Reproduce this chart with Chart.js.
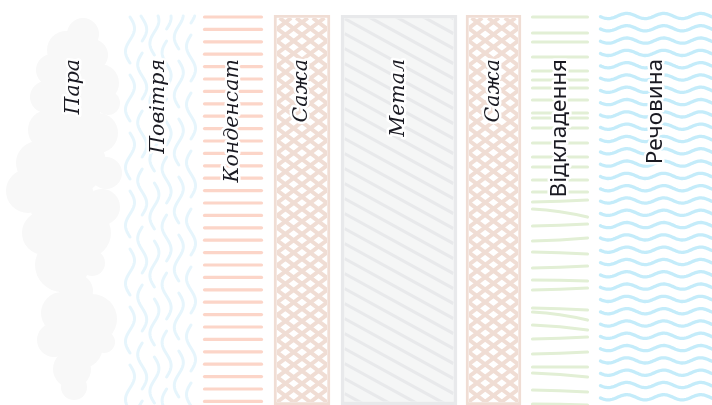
<!DOCTYPE html>
<html>
<head>
<meta charset="utf-8">
<script src="https://cdn.jsdelivr.net/npm/chart.js@4"></script>
<style>
  html, body { margin: 0; padding: 0; background: #ffffff; }
</style>
</head>
<body>
<canvas id="layersChart" width="712" height="405"></canvas>
<script>
// layers of the cross-section, left to right (x extents in px-units of the drawing)
const layerNames = ["Пара", "Повітря", "Конденсат", "Сажа", "Метал", "Сажа", "Відкладення", "Речовина"];
const layerStart = [30, 125, 203, 274, 341, 466, 531, 599];
const layerEnd = [118, 193, 263, 330, 457, 521, 589, 712];

const SERIF = "italic 20.5px 'DejaVu Serif'";
const SANS = "22.5px 'Noto Sans'";

const layerStyle = {
  "Пара": { fill: "rgba(0,0,0,0)", border: "rgba(0,0,0,0)", bw: 0, draw: drawCloud, font: SERIF },
  "Повітря": { fill: "rgba(0,0,0,0)", border: "rgba(0,0,0,0)", bw: 0, draw: drawAir, font: SERIF },
  "Конденсат": { fill: "rgba(0,0,0,0)", border: "rgba(0,0,0,0)", bw: 0, draw: drawStripes, font: SERIF },
  "Сажа": { fill: "#ffffff", border: "#f0ddd4", bw: 3, draw: drawCross, font: SERIF },
  "Метал": { fill: "#f5f6f6", border: "#e8e9eb", bw: 3.5, draw: drawDiag, font: SERIF },
  "Відкладення": { fill: "rgba(0,0,0,0)", border: "rgba(0,0,0,0)", bw: 0, draw: drawDeposit, font: SANS },
  "Речовина": { fill: "rgba(0,0,0,0)", border: "rgba(0,0,0,0)", bw: 0, draw: drawWaves, font: SANS }
};

function drawCloud(ctx, r) {
  const cx = (r.left + r.right) / 2;
  const blobs = [
    [9, 19, 16], [-8, 35, 19], [18, 40, 16], [-22, 55, 16], [-2, 62, 24], [26, 68, 19],
    [-28, 82, 16], [34, 88, 12], [-2, 98, 28], [-26, 115, 20], [24, 118, 20],
    [-36, 148, 22], [2, 148, 30], [32, 158, 16], [-46, 176, 22], [-12, 186, 33],
    [28, 192, 18], [-30, 218, 22], [12, 218, 25], [-12, 250, 27], [18, 248, 13],
    [2, 276, 17], [-12, 298, 21], [18, 304, 25], [-20, 325, 17], [6, 331, 23],
    [30, 327, 11], [-2, 354, 19], [0, 372, 13]
  ];
  ctx.fillStyle = "#f8f8f8";
  blobs.forEach(([dx, dy, rad]) => {
    ctx.beginPath();
    ctx.arc(cx + dx, r.top + dy, rad, 0, Math.PI * 2);
    ctx.fill();
  });
}

function drawAir(ctx, r) {
  ctx.strokeStyle = "#e6f5fc";
  ctx.lineWidth = 3;
  ctx.lineCap = "round";
  const phases = [0, 22, 8, 34, 14, 40];
  const segLen = 46, gap = 12;
  for (let i = 0; i < 6; i++) {
    const xc = r.left + 5 + i * 12.2;
    for (let y0 = r.top + 2 - phases[i]; y0 < r.bottom; y0 += segLen + gap) {
      ctx.beginPath();
      let first = true;
      for (let t = 0; t <= segLen; t += 1) {
        const yy = y0 + t;
        if (yy < r.top + 1) continue;
        const xx = xc + 4.5 * Math.sin((t / segLen) * Math.PI * 2 + (i % 2) * Math.PI);
        if (first) { ctx.moveTo(xx, yy); first = false; } else ctx.lineTo(xx, yy);
      }
      ctx.stroke();
    }
  }
}

function drawStripes(ctx, r) {
  ctx.strokeStyle = "#fcd5c8";
  ctx.lineWidth = 3.2;
  ctx.lineCap = "round";
  for (let y = r.top + 2; y < r.bottom + 4; y += 12.4) {
    ctx.beginPath();
    ctx.moveTo(r.left + 1.5, y);
    ctx.lineTo(r.right - 1.5, y);
    ctx.stroke();
  }
}

function drawCross(ctx, r) {
  ctx.strokeStyle = "#f0ddd4";
  ctx.lineWidth = 4;
  const p = 16.6, s = 0.75;
  const h = r.bottom - r.top;
  for (let k = -h / s - p; k < r.right - r.left + p; k += p) {
    ctx.beginPath();
    ctx.moveTo(r.left + k, r.top);
    ctx.lineTo(r.left + k + h / s, r.bottom);
    ctx.moveTo(r.right - k, r.top);
    ctx.lineTo(r.right - k - h / s, r.bottom);
    ctx.stroke();
  }
}

function drawDiag(ctx, r) {
  ctx.strokeStyle = "#e8e9eb";
  ctx.lineWidth = 3.2;
  const s = 0.55, step = 15;
  const w = r.right - r.left;
  for (let y = r.top - w * s; y < r.bottom + 10; y += step) {
    ctx.beginPath();
    ctx.moveTo(r.left, y);
    ctx.lineTo(r.right, y + w * s);
    ctx.stroke();
  }
}

function drawDeposit(ctx, r) {
  ctx.strokeStyle = "#e2efd5";
  ctx.lineWidth = 3.2;
  ctx.lineCap = "round";
  // y offset, left shift, right shift
  const lines = [
    [2, 0, 0], [18, 0, 0], [27, 0, 0], [42, 0, 0], [56, 0, 0], [65, 0, 0], [73, 0, 0],
    [85, 0, 0], [98, 0, 0], [103, 0, 0], [113, 0, 0], [128, 0, 0], [142, 0, 0],
    [152, 0, 0], [165, 0, 0], [177, 0, 0], [186, 1, -1], [198, -4, 4], [210, 1, -1],
    [224, 2, -1], [237, 0, 2], [252, 1, -1], [265, 0, 1], [274, 1, -1], [293, 0, 2],
    [300, -3, 5], [312, -2, 3], [323, 1, -1], [338, 1, -1], [352, 0, 0], [360, -2, 2],
    [376, -1, 1], [389, 0, 1]
  ];
  lines.forEach(([dy, a, b]) => {
    const y = r.top + dy;
    ctx.beginPath();
    ctx.moveTo(r.left + 1.5, y + a);
    ctx.quadraticCurveTo((r.left + r.right) / 2, y + (a + b) / 2 - (b - a) * 0.3, r.right - 1.5, y + b);
    ctx.stroke();
  });
}

function drawWaves(ctx, r) {
  ctx.strokeStyle = "#c4ecfa";
  ctx.lineWidth = 3.3;
  ctx.lineCap = "round";
  for (let y = r.top + 1; y < r.bottom + 6; y += 12.3) {
    ctx.beginPath();
    for (let x = r.left + 1.5; x <= r.right + 2; x += 1) {
      const yy = y + 2.6 * Math.sin(((x - r.left) / 37) * Math.PI * 2);
      if (x === r.left + 1.5) ctx.moveTo(x, yy); else ctx.lineTo(x, yy);
    }
    ctx.stroke();
  }
}

function barRect(el, inset) {
  const p = el.getProps(["x", "y", "base", "height"], true);
  return {
    left: Math.min(p.x, p.base) + inset,
    right: Math.max(p.x, p.base) - inset,
    top: p.y - p.height / 2 + inset,
    bottom: p.y + p.height / 2 - inset
  };
}

const layerPainter = {
  id: "layerPainter",
  afterDatasetsDraw(chart) {
    const ctx = chart.ctx;
    chart.data.datasets.forEach((ds, i) => {
      const st = layerStyle[ds.label];
      const el = chart.getDatasetMeta(i).data[0];
      const r = barRect(el, st.bw);
      ctx.save();
      if (st.bw > 0) {
        ctx.beginPath();
        ctx.rect(r.left, r.top, r.right - r.left, r.bottom - r.top);
        ctx.clip();
      }
      st.draw(ctx, r);
      ctx.restore();
    });
    // labels, rotated, reading bottom to top
    chart.data.datasets.forEach((ds, i) => {
      const st = layerStyle[ds.label];
      const r = barRect(chart.getDatasetMeta(i).data[0], 0);
      ctx.save();
      ctx.translate((r.left + r.right) / 2, r.top + 44);
      ctx.rotate(-Math.PI / 2);
      ctx.font = st.font;
      ctx.textAlign = "right";
      ctx.textBaseline = "middle";
      ctx.lineJoin = "round";
      ctx.strokeStyle = "#ffffff";
      ctx.lineWidth = 5;
      ctx.strokeText(ds.label, 0, 0);
      ctx.fillStyle = "#1a1a22";
      ctx.fillText(ds.label, 0, 0);
      ctx.restore();
    });
  }
};

const ctx = document.getElementById("layersChart").getContext("2d");

const layersChart = new Chart(ctx, {
  type: "bar",
  data: {
    labels: ["переріз"],
    datasets: layerNames.map((name, i) => ({
      label: name,
      data: [[layerStart[i], layerEnd[i]]],
      backgroundColor: layerStyle[name].fill,
      borderColor: layerStyle[name].border,
      borderWidth: layerStyle[name].bw,
      borderSkipped: false,
      grouped: false,
      barPercentage: 1,
      categoryPercentage: 1
    }))
  },
  options: {
    indexAxis: "y",
    responsive: false,
    animation: false,
    devicePixelRatio: 1,
    layout: { padding: { top: 15, right: 0, bottom: 0, left: 0 } },
    plugins: {
      legend: { display: false },
      tooltip: { enabled: false }
    },
    scales: {
      x: { type: "linear", min: 0, max: 712, display: false },
      y: { display: false }
    }
  },
  plugins: [layerPainter]
});
</script>
</body>
</html>
